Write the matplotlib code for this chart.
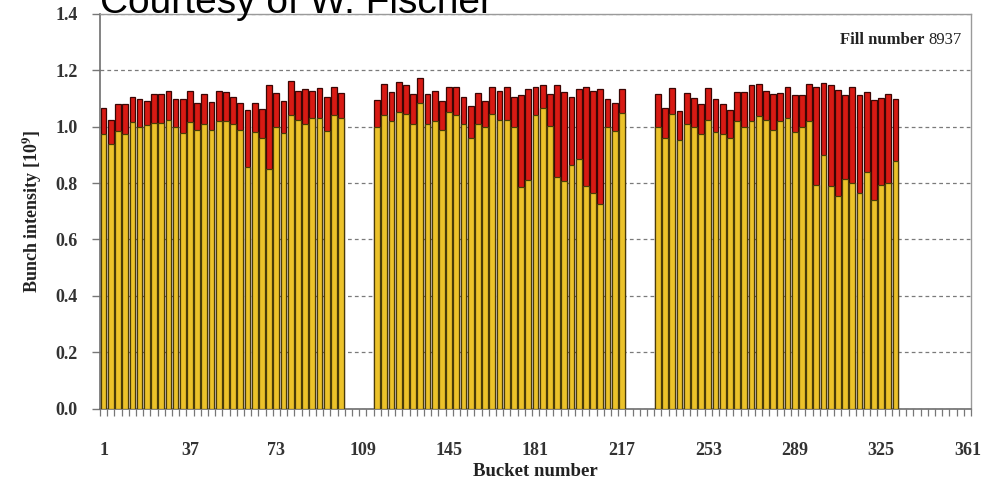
import matplotlib
matplotlib.use("Agg")
import matplotlib.pyplot as plt
import numpy as np

# Bunch slots (bucket numbers) of the three trains, filled every third bucket
train_1 = list(range(1, 101, 3))
train_2 = list(range(115, 218, 3))
train_3 = list(range(232, 332, 3))
buckets = train_1 + train_2 + train_3

# Bunch intensity at injection (red, full bar) and later in the store (yellow), units of 1e9
initial = [
    1.065, 1.025, 1.080, 1.080, 1.105, 1.100, 1.090, 1.115, 1.117, 1.127,
    1.098, 1.098, 1.127, 1.085, 1.115, 1.086, 1.127, 1.124, 1.105, 1.083,
    1.060, 1.083, 1.064, 1.149, 1.120, 1.090, 1.161, 1.127, 1.134, 1.127,
    1.137, 1.105, 1.140, 1.120,
    1.096, 1.153, 1.123, 1.159, 1.148, 1.117, 1.173, 1.117, 1.127, 1.092,
    1.141, 1.141, 1.105, 1.075, 1.120, 1.091, 1.141, 1.127, 1.140, 1.105,
    1.112, 1.134, 1.141, 1.148, 1.117, 1.148, 1.124, 1.105, 1.134, 1.141,
    1.127, 1.134, 1.100, 1.084, 1.134,
    1.115, 1.065, 1.137, 1.057, 1.120, 1.103, 1.080, 1.137, 1.098, 1.080,
    1.060, 1.123, 1.123, 1.148, 1.153, 1.127, 1.117, 1.120, 1.141, 1.112,
    1.112, 1.153, 1.141, 1.155, 1.148, 1.131, 1.114, 1.141, 1.114, 1.124,
    1.096, 1.103, 1.117, 1.100,
]
later = [
    0.975, 0.940, 0.985, 0.975, 1.015, 1.000, 1.005, 1.013, 1.013, 1.025,
    1.000, 0.978, 1.015, 0.990, 1.010, 0.990, 1.019, 1.019, 1.010, 0.990,
    0.857, 0.982, 0.960, 0.850, 1.000, 0.978, 1.040, 1.025, 1.010, 1.030,
    1.030, 0.985, 1.040, 1.030,
    1.000, 1.040, 1.022, 1.053, 1.046, 1.010, 1.084, 1.010, 1.022, 0.990,
    1.053, 1.040, 1.010, 0.960, 1.010, 1.000, 1.046, 1.025, 1.025, 1.000,
    0.786, 0.810, 1.040, 1.066, 1.004, 0.820, 0.806, 0.865, 0.885, 0.788,
    0.764, 0.726, 1.000, 0.985, 1.049,
    1.000, 0.960, 1.046, 0.954, 1.010, 1.000, 0.975, 1.025, 0.982, 0.975,
    0.960, 1.019, 1.000, 1.019, 1.037, 1.025, 0.990, 1.019, 1.030, 0.982,
    1.000, 1.019, 0.794, 0.900, 0.788, 0.753, 0.814, 0.800, 0.764, 0.841,
    0.741, 0.794, 0.802, 0.878,
]

x_labels = [1, 37, 73, 109, 145, 181, 217, 253, 289, 325, 361]
y_ticks = [0.0, 0.2, 0.4, 0.6, 0.8, 1.0, 1.2, 1.4]

plt.rcParams["mathtext.fontset"] = "stix"
serif = ["Liberation Serif", "DejaVu Serif"]

fig = plt.figure(figsize=(9.92, 4.86), dpi=100)
ax = fig.add_axes([100 / 992, 1 - 408.5 / 486, 871 / 992, 394.5 / 486])

bar_w = 2.4
ax.bar(buckets, initial, width=bar_w, color="#d81a14", edgecolor="#3a0604",
       linewidth=0.9, zorder=2)
ax.bar(buckets, later, width=bar_w, color="#ecc22a", edgecolor="#4a3c08",
       linewidth=0.9, zorder=3)

ax.set_xlim(-0.5, 362.5)
ax.set_ylim(0, 1.4)

ax.set_yticks(y_ticks)
ax.set_yticklabels([f"{v:.1f}" for v in y_ticks], fontfamily=serif,
                   fontsize=13, fontweight="bold", color="#333333")
ax.tick_params(axis="y", direction="out", length=6, width=1, color="#777777", pad=10)

ax.set_xticks(x_labels)
ax.set_xticklabels([str(v) for v in x_labels], fontfamily=serif,
                   fontsize=13, fontweight="bold", color="#333333")
ax.set_xticks(np.arange(-0.5, 363, 3), minor=True)
ax.tick_params(axis="x", which="major", length=0, pad=24)
ax.tick_params(axis="x", which="minor", direction="out", length=5, width=0.9,
               color="#777777")

ax.yaxis.grid(True, linestyle=(0, (3, 2.5)), color="#7a7a7a", linewidth=0.9)
ax.set_axisbelow(True)

for side in ["top", "right"]:
    ax.spines[side].set_color("#9a9a9a")
    ax.spines[side].set_linewidth(1.0)
for side in ["left", "bottom"]:
    ax.spines[side].set_color("#6e6e6e")
    ax.spines[side].set_linewidth(1.2)

ax.set_ylabel(r"Bunch intensity [10$^{\mathbf{9}}$]", fontfamily=serif,
              fontsize=13, fontweight="bold", color="#222222", labelpad=8)
ax.set_xlabel("Bucket number", fontfamily=serif, fontsize=13.5,
              fontweight="bold", color="#222222", labelpad=3)

ax.text(0.946, 0.934, "Fill number", transform=ax.transAxes, ha="right",
        va="center", fontfamily=serif, fontsize=12, fontweight="bold",
        color="#222222")
ax.text(0.9897, 0.934, "8937", transform=ax.transAxes, ha="right",
        va="center", fontfamily=serif, fontsize=12, color="#222222")

fig.text(100 / 992, 1 - 13 / 486, "Courtesy of W. Fischer",
         fontfamily=["Liberation Sans", "DejaVu Sans"], fontsize=28,
         ha="left", va="baseline", color="black")

fig.savefig("out.png", dpi=100)
